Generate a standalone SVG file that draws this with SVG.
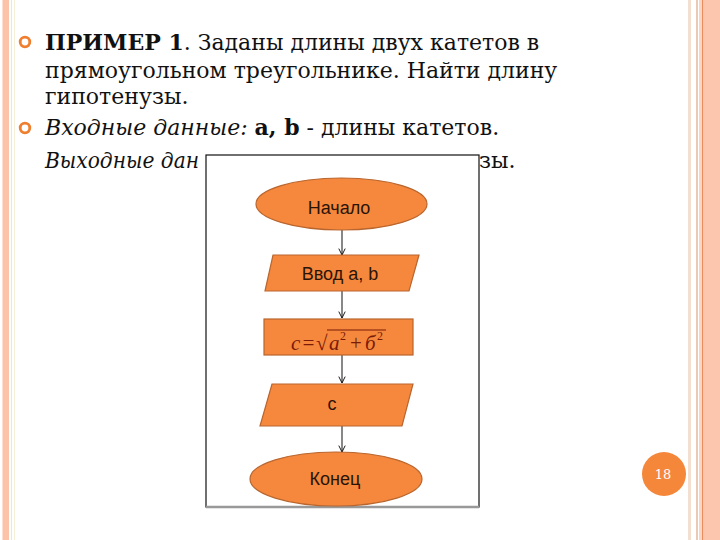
<svg xmlns="http://www.w3.org/2000/svg" width="720" height="540" viewBox="0 0 720 540">
<defs>
<style>
.body{font-family:"DejaVu Serif","Liberation Serif",serif;font-size:22px;fill:#111}
.b{font-weight:bold}
.i{font-style:italic}
.node{fill:#f5883c;stroke:#b9652e;stroke-width:1.2}
.lbl{font-family:"Liberation Sans",Arial,sans-serif;font-size:18px;fill:#2a1408;text-anchor:middle}
.conn{stroke:#111;stroke-width:1;fill:none}
.bullet{fill:none;stroke:#ef7f2e;stroke-width:2.8}
.f{font-family:"Liberation Serif","Times New Roman",serif;font-style:italic;fill:#7a1a08;font-size:21px}
</style>
<marker id="arr" viewBox="0 0 10 10" refX="9" refY="5" markerWidth="8" markerHeight="8" orient="auto">
<path d="M1,1 L9,5 L1,9" fill="none" stroke="#111" stroke-width="1.2"/>
</marker>
</defs>
<rect width="720" height="540" fill="#fff"/>
<g id="frame">
<rect x="2" y="0" width="1" height="540" fill="#fde0d2"/>
<rect x="3" y="0" width="6" height="540" fill="#fcc3a8"/>
<rect x="11" y="0" width="1" height="540" fill="#f3e2da"/>
<rect x="14" y="0" width="1" height="540" fill="#f4efd6"/>
<rect x="688" y="0" width="3" height="540" fill="#f2dfd0"/>
<rect x="696" y="0" width="2" height="540" fill="#e9cbb5"/>
<rect x="699" y="0" width="3" height="540" fill="#fbd6c4"/>
<rect x="702" y="0" width="1.5" height="540" fill="#ea8c5e"/>
<rect x="703.5" y="0" width="16.5" height="540" fill="#fcc6ae"/>
</g>
<g id="text">
<circle class="bullet" cx="25" cy="42" r="4.8"/>
<circle class="bullet" cx="25" cy="128" r="4.8"/>
<text class="body" x="45" y="50"><tspan class="b">ПРИМЕР 1</tspan>. Заданы длины двух катетов в</text>
<text class="body" x="45" y="78">прямоугольном треугольнике. Найти длину</text>
<text class="body" x="45" y="104">гипотенузы.</text>
<text class="body" x="45" y="135"><tspan class="i">Входные данные:</tspan> <tspan class="b">a, b</tspan> - длины катетов.</text>
<text class="body i" x="45" y="168" textLength="154" lengthAdjust="spacingAndGlyphs">Выходные дан</text>
<text class="body" x="479" y="168">зы.</text>
</g>
<g id="panel">
<rect x="206" y="155" width="273" height="352" fill="#fff" stroke="#111" stroke-width="1.2"/>
<line x1="206" y1="507" x2="479" y2="507" stroke="#999" stroke-width="2.5"/>
</g>
<g id="connectors">
<line class="conn" x1="342" y1="230" x2="342" y2="255" marker-end="url(#arr)"/>
<line class="conn" x1="342" y1="291" x2="342" y2="318" marker-end="url(#arr)"/>
<line class="conn" x1="342" y1="355" x2="342" y2="383" marker-end="url(#arr)"/>
<line class="conn" x1="342" y1="426" x2="342" y2="452" marker-end="url(#arr)"/>
</g>
<g id="start">
<ellipse class="node" cx="341.5" cy="204" rx="85.5" ry="26"/>
<text class="lbl" x="339" y="214">Начало</text>
</g>
<g id="input">
<polygon class="node" points="273,255 419,255 409,291 265,291"/>
<text class="lbl" x="340" y="280">Ввод a, b</text>
</g>
<g id="calc">
<rect class="node" x="264" y="319" width="149" height="36"/>
<text class="f" x="291" y="350">c<tspan dx="1">=</tspan></text>
<text class="f" x="316" y="350" style="font-style:normal">√</text>
<line x1="327" y1="330" x2="386" y2="330" stroke="#7a1a08" stroke-width="1"/>
<text class="f" x="329" y="350">a</text>
<text class="f" x="340" y="340" style="font-size:12px;font-style:normal">2</text>
<text class="f" x="350" y="350" style="font-style:normal">+</text>
<text class="f" x="365" y="350">б</text>
<text class="f" x="377" y="340" style="font-size:12px;font-style:normal">2</text>
</g>
<g id="output">
<polygon class="node" points="272,384 413,384 402,426 260,426"/>
<text class="lbl" x="332" y="410">c</text>
</g>
<g id="end">
<ellipse class="node" cx="336" cy="479" rx="86" ry="27"/>
<text class="lbl" x="335" y="485">Конец</text>
</g>
<g id="page">
<circle cx="664" cy="474" r="22" fill="#f5873a"/>
<text x="663" y="479" font-family="DejaVu Serif,serif" font-size="13" fill="#fff" text-anchor="middle">18</text>
</g>
</svg>
